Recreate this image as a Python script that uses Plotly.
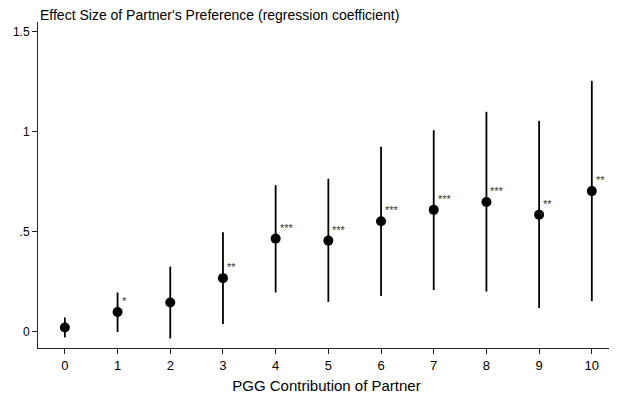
import plotly.graph_objects as go

contrib = [0, 1, 2, 3, 4, 5, 6, 7, 8, 9, 10]
coef = [0.02, 0.097, 0.145, 0.267, 0.465, 0.455, 0.552, 0.609, 0.648, 0.585, 0.703]
ci_hi = [0.07, 0.195, 0.325, 0.497, 0.733, 0.765, 0.925, 1.008, 1.10, 1.055, 1.255]
ci_lo = [-0.03, -0.003, -0.035, 0.037, 0.195, 0.148, 0.178, 0.207, 0.200, 0.117, 0.152]
stars = ["", "*", "", "**", "***", "***", "***", "***", "***", "**", "**"]
y_ticks = [0, 0.5, 1, 1.5]
y_ticklabels = ["0", ".5", "1", "1.5"]

font = "Liberation Sans, Arial, sans-serif"

fig = go.Figure()
fig.add_trace(go.Scatter(
    x=contrib, y=coef, mode="markers",
    marker=dict(color="black", size=10),
    error_y=dict(type="data", symmetric=False,
                 array=[h - c for h, c in zip(ci_hi, coef)],
                 arrayminus=[c - l for c, l in zip(coef, ci_lo)],
                 color="black", thickness=1.8, width=0),
    showlegend=False, hoverinfo="skip",
))

for x, y, s in zip(contrib, coef, stars):
    if s:
        fig.add_annotation(x=x, y=y, text=s, showarrow=False,
                           xanchor="left", yanchor="middle",
                           xshift=2, yshift=11,
                           font=dict(size=11, color="#333", family=font))

# page has an 8px body margin, so the figure is sized/offset to compensate
fig.update_layout(
    width=609, height=395,
    margin=dict(l=30, r=2, t=14, b=55),
    paper_bgcolor="white", plot_bgcolor="white",
    font=dict(family=font, color="black"),
    title=dict(text="Effect Size of Partner's Preference (regression coefficient)",
               x=0, xref="paper", xanchor="left", y=1, yref="paper",
               yanchor="bottom", pad=dict(b=2, l=2),
               font=dict(size=14, color="black", family=font)),
    xaxis=dict(range=[-0.51, 10.44], tickmode="array", tickvals=contrib,
               ticks="outside", ticklen=5, tickcolor="#222", showgrid=False,
               zeroline=False, showline=True, linecolor="#222", linewidth=1,
               automargin=False,
               tickfont=dict(size=13, color="black"),
               title=dict(text="PGG Contribution of Partner",
                          font=dict(size=15, color="black"), standoff=8)),
    yaxis=dict(range=[-0.083, 1.55], tickmode="array", tickvals=y_ticks,
               ticktext=y_ticklabels, ticks="outside", ticklen=5,
               tickcolor="#222", showgrid=False, zeroline=False,
               showline=True, linecolor="#222", linewidth=1,
               automargin=False,
               tickfont=dict(size=12, color="black")),
)

fig.write_html("out.html")
